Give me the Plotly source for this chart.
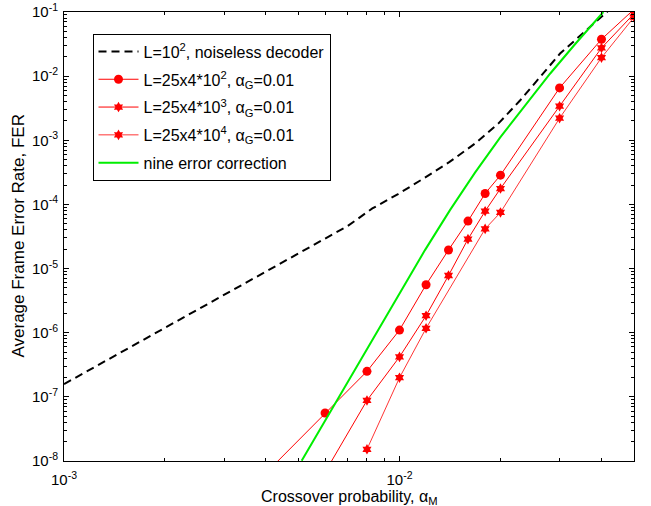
import plotly.graph_objects as go

# Noiseless decoder, L = 10^2
noiseless_x = [0.001, 0.007, 0.0083, 0.0099, 0.0118, 0.0141, 0.0168, 0.0197,
               0.0229, 0.0262, 0.0301, 0.0415, 0.045]
noiseless_y = [1.58e-7, 4.6e-5, 8.65e-5, 1.45e-4, 2.54e-4, 4.6e-4, 8.9e-4, 1.82e-3,
               4.2e-3, 9.7e-3, 2.25e-2, 0.1, 0.147]

# L = 25x4*10^2, alpha_G = 0.01
l2_x = [0.004, 0.006, 0.008, 0.01, 0.012, 0.014, 0.016, 0.018, 0.02, 0.03, 0.04, 0.05]
l2_y = [6.5e-9, 5.6e-8, 2.5e-7, 1.1e-6, 5.6e-6, 1.95e-5, 5.5e-5, 1.48e-4, 2.86e-4,
        6.55e-3, 3.76e-2, 0.11]

# L = 25x4*10^3, alpha_G = 0.01
l3_x = [0.006, 0.008, 0.01, 0.012, 0.014, 0.016, 0.018, 0.02, 0.03, 0.04, 0.05]
l3_y = [6.7e-9, 8.8e-8, 4.2e-7, 1.84e-6, 7.8e-6, 2.88e-5, 7.85e-5, 1.77e-4,
        3.4e-3, 2.75e-2, 0.094]

# L = 25x4*10^4, alpha_G = 0.01
l4_x = [0.008, 0.01, 0.012, 0.018, 0.02, 0.03, 0.04, 0.05]
l4_y = [1.52e-8, 1.99e-7, 1.17e-6, 4.16e-5, 7.5e-5, 2.21e-3, 1.94e-2, 0.083]

# Nine error correction
nine_x = [0.00511, 0.00621, 0.00798, 0.01, 0.01191, 0.01414, 0.01679, 0.01994,
          0.02366, 0.0281, 0.03335, 0.04051]
nine_y = [1.01e-8, 5.74e-8, 5.44e-7, 4.12e-6, 1.94e-5, 8.14e-5, 3.13e-4, 1.10e-3,
          3.52e-3, 1.09e-2, 3.14e-2, 0.1]

x_major = [1e-3, 1e-2]
x_major_text = ["10<sup>-3</sup>", "10<sup>-2</sup>"]
y_major = [10.0 ** e for e in range(-8, 0)]
y_major_text = ["10<sup>%d</sup>" % e for e in range(-8, 0)]

x_minor = [m * 10.0 ** e for e in (-3, -2) for m in range(2, 10) if m * 10.0 ** e <= 0.05]
y_minor = [m * 10.0 ** e for e in range(-8, -1) for m in range(2, 10)]

FONT = "Liberation Sans, Arial, sans-serif"
RED = "#ff0000"

fig = go.Figure()
fig.add_trace(go.Scatter(
    x=noiseless_x, y=noiseless_y, mode="lines", legendgroup="a",
    name="L=10<sup>2</sup>, noiseless decoder",
    line=dict(color="black", width=2, dash="8px,5px")))
fig.add_trace(go.Scatter(
    x=l2_x, y=l2_y, mode="lines+markers", legendgroup="b",
    name="L=25x4*10<sup>2</sup>, α<sub>G</sub>=0.01",
    line=dict(color=RED, width=1),
    marker=dict(symbol="circle", size=9, color=RED)))
fig.add_trace(go.Scatter(
    x=l3_x, y=l3_y, mode="lines+markers", legendgroup="c",
    name="L=25x4*10<sup>3</sup>, α<sub>G</sub>=0.01",
    line=dict(color=RED, width=1),
    marker=dict(symbol="hexagram", size=8, color=RED)))
fig.add_trace(go.Scatter(
    x=l4_x, y=l4_y, mode="lines+markers", legendgroup="d",
    name="L=25x4*10<sup>4</sup>, α<sub>G</sub>=0.01",
    line=dict(color=RED, width=0.8),
    marker=dict(symbol="hexagram", size=8, color=RED)))
fig.add_trace(go.Scatter(
    x=nine_x, y=nine_y, mode="lines", legendgroup="e",
    name="nine error correction",
    line=dict(color="#00ee00", width=2)))

axis_common = dict(
    type="log", showgrid=False, zeroline=False, automargin=False,
    showline=True, linecolor="black", linewidth=1, mirror="ticks",
    ticks="inside", ticklen=5, tickcolor="black", tickwidth=1,
    tickfont=dict(family=FONT, size=15, color="black"),
)

fig.update_xaxes(
    **axis_common,
    range=[-3, -1.30103],
    tickvals=x_major, ticktext=x_major_text, ticklabelstandoff=5,
    minor=dict(tickvals=x_minor, ticks="inside", ticklen=3, tickcolor="black", tickwidth=1),
)
fig.update_yaxes(
    **axis_common,
    range=[-8, -1],
    tickvals=y_major, ticktext=y_major_text, ticklabelstandoff=2,
    minor=dict(tickvals=y_minor, ticks="inside", ticklen=3, tickcolor="black", tickwidth=1),
)

fig.update_layout(
    width=651, height=506,
    margin=dict(l=64, r=17, t=12, b=45),
    paper_bgcolor="white", plot_bgcolor="white",
    font=dict(family=FONT, size=15, color="black"),
    showlegend=True,
    legend=dict(
        x=0.05, y=0.952, xanchor="left", yanchor="top",
        bgcolor="white", bordercolor="black", borderwidth=1,
        font=dict(family=FONT, size=16, color="black"),
        itemwidth=40, tracegroupgap=4,
    ),
    annotations=[
        dict(text="Crossover probability, α<sub>M</sub>", xref="paper", yref="paper",
             x=0.5, y=0, xanchor="center", yanchor="middle", yshift=-36,
             showarrow=False, font=dict(family=FONT, size=16, color="black")),
        dict(text="Average Frame Error Rate, FER", xref="paper", yref="paper",
             x=0, y=0.5, xanchor="center", yanchor="middle", xshift=-46,
             textangle=-90, showarrow=False,
             font=dict(family=FONT, size=17, color="black")),
    ],
)

fig.write_html("out.html")
